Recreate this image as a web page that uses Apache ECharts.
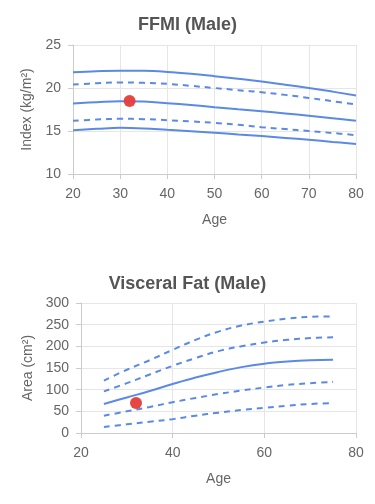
<!DOCTYPE html>
<html><head><meta charset="utf-8">
<script src="https://cdn.jsdelivr.net/npm/echarts@6/dist/echarts.min.js"></script>
<style>html,body{margin:0;padding:0;background:#fff}#c{width:375px;height:504px}</style>
</head><body><div id="c"></div>
<script>
// FFMI (Male)
var ffmiAges = [20, 25, 30, 35, 40, 45, 50, 55, 60, 65, 70, 75, 80];
var ffmiP97 = [21.83, 21.95, 22.02, 22.0, 21.87, 21.65, 21.37, 21.07, 20.75, 20.38, 20.0, 19.58, 19.12];
var ffmiP85 = [20.4, 20.55, 20.65, 20.6, 20.48, 20.25, 20.0, 19.75, 19.5, 19.2, 18.85, 18.47, 18.08];
var ffmiP50 = [18.2, 18.35, 18.47, 18.42, 18.24, 18.02, 17.77, 17.53, 17.3, 17.04, 16.77, 16.48, 16.19];
var ffmiP15 = [16.2, 16.33, 16.42, 16.38, 16.26, 16.12, 15.95, 15.72, 15.45, 15.22, 15.0, 14.77, 14.52];
var ffmiP3  = [15.1, 15.25, 15.37, 15.3, 15.14, 14.98, 14.8, 14.6, 14.41, 14.2, 13.98, 13.73, 13.48];
var ffmiUser = [32, 18.5];

// Visceral Fat (Male)
var vfAges = [25, 30, 35, 40, 45, 50, 55, 60, 65, 70, 75];
var vfP97 = [121, 146, 168, 192, 215, 234, 248, 257, 264, 268, 269];
var vfP85 = [96, 115, 135, 155, 173, 189, 200, 209, 215, 219, 221];
var vfP50 = [67, 82, 97, 113, 128, 141, 152, 160, 165, 168, 169];
var vfP15 = [40, 50, 60, 71, 81, 90, 98, 105, 111, 115, 118];
var vfP3  = [14, 20, 26, 32, 40, 47, 53, 58, 63, 67, 69];
var vfUser = [32, 69];

var BLUE = '#5a8ae6';
var RED = '#e53d3a';
var FONT = '"Liberation Sans", Arial, sans-serif';

function zip(xs, ys){ return xs.map(function(x,i){ return [x, ys[i]]; }); }
function line(xi, data, dashed){
  return {type:'line', xAxisIndex:xi, yAxisIndex:xi, data:data, smooth:0.4, symbol:'none', silent:true,
    lineStyle:{color:BLUE, width:2, type: dashed ? [6,5] : 'solid'}, z:2};
}
function pt(xi, p){
  return {type:'scatter', xAxisIndex:xi, yAxisIndex:xi, data:[p], symbolSize:12,
    itemStyle:{color:RED, opacity:0.95}, z:5};
}
function xAx(gi, interval){
  return {type:'value', gridIndex:gi, min:20, max:80, interval:interval,
    name:'Age', nameLocation:'middle', nameGap:39,
    nameTextStyle:{color:'#666', fontSize:14, fontFamily:FONT},
    axisLine:{show:true, lineStyle:{color:'#ccc'}},
    axisTick:{show:true, length:5, lineStyle:{color:'#ccc'}},
    axisLabel:{color:'#666', fontSize:14, fontFamily:FONT, margin:13},
    splitLine:{show:true, lineStyle:{color:'#e6e6e6'}}};
}
function yAx(gi, min, max, interval, name){
  return {type:'value', gridIndex:gi, min:min, max:max, interval:interval,
    name:name, nameLocation:'middle', nameGap:38, nameRotate:90,
    nameTextStyle:{color:'#666', fontSize:14, fontFamily:FONT},
    axisLine:{show:true, lineStyle:{color:'#ccc'}},
    axisTick:{show:true, length:5, lineStyle:{color:'#ccc'}},
    axisLabel:{color:'#666', fontSize:14, fontFamily:FONT, margin:12},
    splitLine:{show:true, lineStyle:{color:'#e6e6e6'}}};
}

var chart = echarts.init(document.getElementById('c'), null, {renderer:'canvas'});
chart.setOption({
  animation:false,
  backgroundColor:'#fff',
  title:[
    {text:'FFMI (Male)', left:'center', top:11, textStyle:{color:'#555', fontSize:18, fontWeight:'bold', fontFamily:FONT}},
    {text:'Visceral Fat (Male)', left:'center', top:270, textStyle:{color:'#555', fontSize:18, fontWeight:'bold', fontFamily:FONT}}
  ],
  grid:[
    {left:73, right:19, top:45, height:129},
    {left:81, right:19, top:303, height:130}
  ],
  xAxis:[xAx(0,10), xAx(1,20)],
  yAxis:[yAx(0,10,25,5,'Index (kg/m²)'), yAx(1,0,300,50,'Area (cm²)')],
  series:[
    line(0, zip(ffmiAges, ffmiP97), false),
    line(0, zip(ffmiAges, ffmiP85), true),
    line(0, zip(ffmiAges, ffmiP50), false),
    line(0, zip(ffmiAges, ffmiP15), true),
    line(0, zip(ffmiAges, ffmiP3), false),
    pt(0, ffmiUser),
    line(1, zip(vfAges, vfP97), true),
    line(1, zip(vfAges, vfP85), true),
    line(1, zip(vfAges, vfP50), false),
    line(1, zip(vfAges, vfP15), true),
    line(1, zip(vfAges, vfP3), true),
    pt(1, vfUser)
  ]
});
</script></body></html>
